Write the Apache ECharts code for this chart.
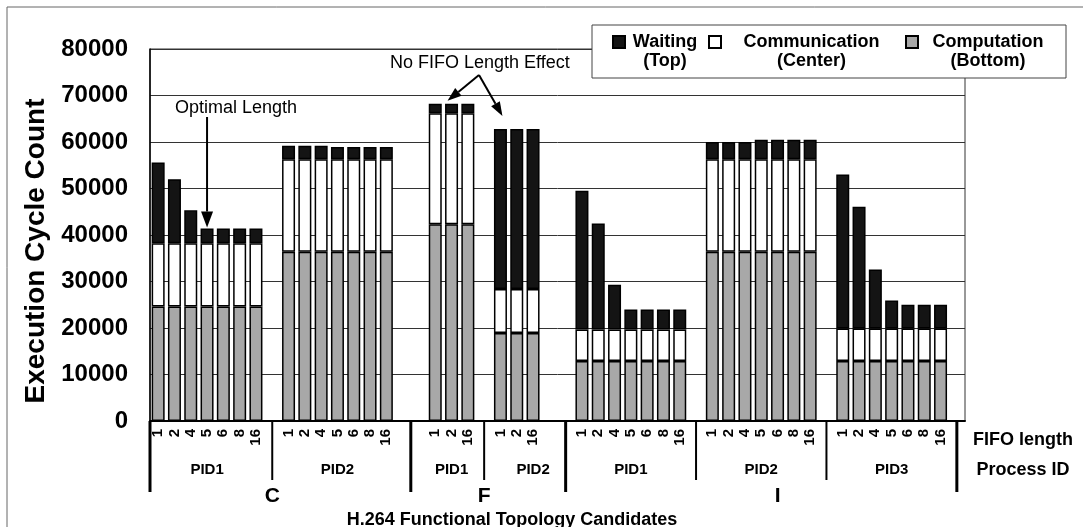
<!DOCTYPE html>
<html>
<head>
<meta charset="utf-8">
<script src="https://cdn.jsdelivr.net/npm/echarts@6/dist/echarts.min.js"></script>
<style>
	html, body { margin: 0; padding: 0; background: #fff; }
	#chart { width: 1083px; height: 527px; }
</style>
</head>
<body>
<div id="chart"></div>
<script>
// 空位 (组之间的间隔)
const E = ''
const N = null

// FIFO length 刻度
const fifoLabels = [
	'1', '2', '4', '5', '6', '8', '16', E,
	'1', '2', '4', '5', '6', '8', '16', E, E,
	'1', '2', '16', E,
	'1', '2', '16', E, E,
	'1', '2', '4', '5', '6', '8', '16', E,
	'1', '2', '4', '5', '6', '8', '16', E,
	'1', '2', '4', '5', '6', '8', '16', E,
]
// Process ID
const pidLabels = [
	E, E, E, 'PID1', E, E, E, E,
	E, E, E, 'PID2', E, E, E, E, E,
	E, 'PID1', E, E,
	E, E, 'PID2', E, E,
	E, E, E, 'PID1', E, E, E, E,
	E, E, E, 'PID2', E, E, E, E,
	E, E, E, 'PID3', E, E, E, E,
]
// topology
const topoLabels = [
	E, E, E, E, E, E, E, 'C',
	E, E, E, E, E, E, E, E, E,
	E, E, E, 'F',
	E, E, E, E, E,
	E, E, E, E, E, E, E, E,
	E, E, E, E, 'I', E, E, E,
	E, E, E, E, E, E, E, E,
]

// Computation (Bottom)
const computation = [
	24600, 24600, 24600, 24600, 24600, 24600, 24600, N,
	36400, 36400, 36400, 36400, 36400, 36400, 36400, N, N,
	42300, 42300, 42300, N,
	18900, 18900, 18900, N, N,
	12900, 12900, 12900, 12900, 12900, 12900, 12900, N,
	36400, 36400, 36400, 36400, 36400, 36400, 36400, N,
	12900, 12900, 12900, 12900, 12900, 12900, 12900, N,
]
// Communication (Center)
const communication = [
	13600, 13600, 13600, 13600, 13600, 13600, 13600, N,
	19900, 19900, 19900, 19900, 19900, 19900, 19900, N, N,
	23900, 23900, 23900, N,
	9500, 9500, 9500, N, N,
	6800, 6800, 6800, 6800, 6800, 6800, 6800, N,
	19900, 19900, 19900, 19900, 19900, 19900, 19900, N,
	7000, 7000, 7000, 7000, 7000, 7000, 7000, N,
]
// Waiting (Top)
const waiting = [
	17400, 13800, 7100, 3200, 3200, 3200, 3200, N,
	2900, 2900, 2900, 2600, 2600, 2600, 2600, N, N,
	2000, 2000, 2000, N,
	34400, 34400, 34400, N, N,
	29800, 22800, 9600, 4300, 4300, 4300, 4300, N,
	3700, 3700, 3700, 4200, 4200, 4200, 4200, N,
	33100, 26200, 12700, 6000, 5100, 5100, 5100, N,
]

const legendSub = { Waiting: '(Top)', Communication: '(Center)', Computation: '(Bottom)' }
const legendKey = { Waiting: 'w', Communication: 'c', Computation: 'p' }

// 分隔线位置 (类目坐标)
const pidSeparators = [7, 20, 33, 41]
const topoSeparators = [-0.5, 15.5, 25, 49]

const FONT = '"Liberation Sans", Arial, sans-serif'

const chart = echarts.init(document.getElementById('chart'), null, { renderer: 'canvas' })

const barStyle = (color) => ({ color: color, borderColor: '#000', borderWidth: 1.5 })
const richItem = (w) => ({ width: w, align: 'center', fontWeight: 'bold', fontSize: 18, lineHeight: 19, fontFamily: FONT })

const option = {
	animation: false,
	backgroundColor: '#fff',
	textStyle: { fontFamily: FONT, color: '#000' },
	grid: {
		left: 150,
		top: 49,
		width: 815,
		height: 372,
		show: true,
		borderColor: '#333',
		borderWidth: 1,
		outerBoundsMode: 'none',
		containLabel: false,
	},
	legend: {
		left: 592,
		top: 25,
		orient: 'horizontal',
		// 方块对齐第一行文字
		icon: 'path://M0,0L12,0L12,12L0,12Z M0,31L0,31',
		itemWidth: 12,
		itemHeight: 31,
		itemGap: 8,
		padding: [8, 13, 8, 20],
		backgroundColor: '#fff',
		borderColor: '#444',
		borderWidth: 1,
		data: ['Waiting', 'Communication', 'Computation'],
		formatter: (name) => {
			const k = legendKey[name]
			return `{${k}|${name}}\n{${k}|${legendSub[name]}}`
		},
		textStyle: {
			fontFamily: FONT,
			fontWeight: 'bold',
			fontSize: 18,
			color: '#000',
			rich: { w: richItem(70), c: richItem(171), p: richItem(130) },
		},
	},
	xAxis: [
		{
			type: 'category',
			data: fifoLabels,
			position: 'bottom',
			axisLine: { lineStyle: { color: '#000', width: 2 } },
			axisTick: { show: false },
			axisLabel: {
				interval: 0,
				rotate: 90,
				margin: 8,
				fontSize: 15,
				fontWeight: 'bold',
				color: '#000',
			},
			splitLine: { show: false },
			name: 'FIFO length',
			nameLocation: 'end',
			nameGap: 58,
			nameTextStyle: {
				fontSize: 18,
				fontWeight: 'bold',
				color: '#000',
				align: 'center',
				verticalAlign: 'top',
				padding: [10, 0, 0, 0],
			},
		},
		{
			type: 'category',
			data: pidLabels,
			position: 'bottom',
			offset: 49,
			axisLine: { show: false },
			axisTick: { show: false },
			axisLabel: {
				interval: 0,
				margin: 0,
				verticalAlign: 'middle',
				fontSize: 15,
				fontWeight: 'bold',
				color: '#000',
			},
			name: 'Process ID',
			nameLocation: 'end',
			nameGap: 58,
			nameTextStyle: {
				fontSize: 18,
				fontWeight: 'bold',
				color: '#000',
				align: 'center',
				verticalAlign: 'middle',
				padding: [12, 0, 0, 0],
			},
		},
		{
			type: 'category',
			data: topoLabels,
			position: 'bottom',
			offset: 75,
			axisLine: { show: false },
			axisTick: { show: false },
			axisLabel: {
				interval: 0,
				margin: 0,
				verticalAlign: 'middle',
				fontSize: 21,
				fontWeight: 'bold',
				color: '#000',
			},
			name: 'H.264 Functional Topology Candidates',
			nameLocation: 'middle',
			nameGap: 9,
			nameTextStyle: {
				fontSize: 18,
				fontWeight: 'bold',
				color: '#000',
				padding: [0, 91, 0, 0],
			},
		},
	],
	yAxis: {
		type: 'value',
		min: 0,
		max: 80000,
		interval: 10000,
		axisLine: { show: true, lineStyle: { color: '#000', width: 1.5 } },
		axisTick: { show: false },
		axisLabel: {
			margin: 22,
			fontSize: 24,
			fontWeight: 'bold',
			color: '#000',
			formatter: (v) => String(v),
		},
		splitLine: { lineStyle: { color: '#333', width: 1 } },
		name: 'Execution Cycle Count',
		nameLocation: 'middle',
		nameRotate: 90,
		nameGap: 93,
		nameTextStyle: {
			fontSize: 28,
			fontWeight: 'bold',
			color: '#000',
			padding: [0, 32, 0, 0],
		},
	},
	series: [
		{
			name: 'Computation',
			type: 'bar',
			stack: 'total',
			barWidth: 13,
			itemStyle: barStyle('#a8a8a8'),
			data: computation,
		},
		{
			name: 'Communication',
			type: 'bar',
			stack: 'total',
			barWidth: 13,
			itemStyle: barStyle('#ffffff'),
			data: communication,
		},
		{
			name: 'Waiting',
			type: 'bar',
			stack: 'total',
			barWidth: 13,
			itemStyle: barStyle('#141414'),
			data: waiting,
		},
	],
}

chart.setOption(option)

// 根据坐标轴换算像素位置, 画分隔线与注释箭头
const px = (i) => {
	const x0 = chart.convertToPixel({ xAxisIndex: 0 }, 0)
	const x1 = chart.convertToPixel({ xAxisIndex: 0 }, 1)
	return x0 + i * (x1 - x0)
}
const py = (v) => chart.convertToPixel({ yAxisIndex: 0 }, v)
const yBase = py(0)

function arrow(x1, y1, x2, y2, len, half) {
	const a = Math.atan2(y2 - y1, x2 - x1)
	const bx = x2 - len * Math.cos(a)
	const by = y2 - len * Math.sin(a)
	const nx = -Math.sin(a) * half
	const ny = Math.cos(a) * half
	return [
		{
			type: 'line',
			shape: { x1: x1, y1: y1, x2: bx, y2: by },
			style: { stroke: '#000', lineWidth: 2 },
		},
		{
			type: 'polygon',
			shape: { points: [[x2, y2], [bx + nx, by + ny], [bx - nx, by - ny]] },
			style: { fill: '#000' },
		},
	]
}

const graphics = []
// 外框
graphics.push({
	type: 'rect',
	shape: { x: 7, y: 7, width: 1200, height: 700 },
	style: { fill: 'none', stroke: '#666', lineWidth: 1 },
	z: 0,
})
pidSeparators.forEach((s) => {
	graphics.push({
		type: 'line',
		shape: { x1: px(s), y1: yBase, x2: px(s), y2: yBase + 59 },
		style: { stroke: '#000', lineWidth: 2 },
	})
})
topoSeparators.forEach((s) => {
	graphics.push({
		type: 'line',
		shape: { x1: px(s), y1: yBase, x2: px(s), y2: yBase + 71 },
		style: { stroke: '#000', lineWidth: 3 },
	})
})
// Optimal Length
graphics.push({
	type: 'text',
	style: { text: 'Optimal Length', x: 175, y: 108, font: '18px ' + FONT, fill: '#000', verticalAlign: 'middle' },
})
graphics.push(...arrow(px(3), 117, px(3), py(waiting[3] + computation[3] + communication[3]) - 1, 16, 6))
// No FIFO Length Effect
graphics.push({
	type: 'text',
	style: { text: 'No FIFO Length Effect', x: 390, y: 63, font: '18px ' + FONT, fill: '#000', verticalAlign: 'middle' },
})
graphics.push(...arrow(479, 75, px(18) - 4, py(computation[18] + communication[18] + waiting[18]) - 3, 14, 5))
graphics.push(...arrow(479, 75, px(21) + 2, py(computation[21] + communication[21] + waiting[21]) - 13, 14, 5))

chart.setOption({ graphic: graphics })
</script>
</body>
</html>
